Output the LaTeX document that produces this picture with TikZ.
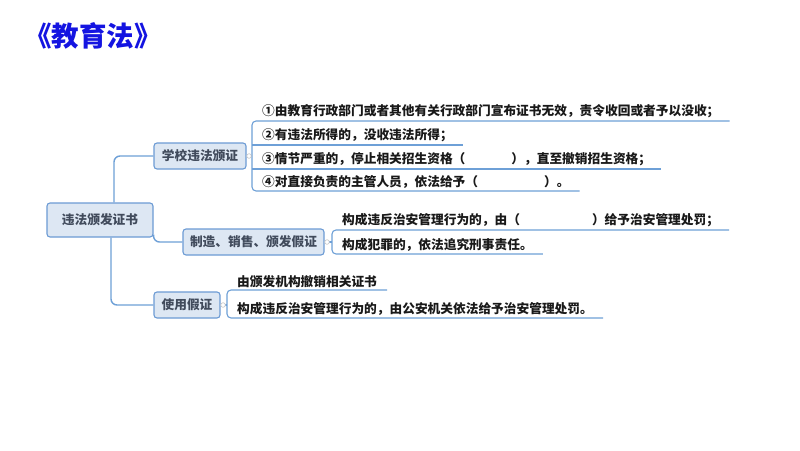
\documentclass[tikz,border=0pt]{standalone}
\usepackage{fontspec}
\setmainfont{Noto Sans CJK SC}
\usepackage{tikz}
\usetikzlibrary{calc,positioning}
\definecolor{titleblue}{RGB}{20,20,225}
\definecolor{boxfill}{RGB}{221,231,243}
\definecolor{boxline}{RGB}{108,155,212}
\definecolor{branchline}{RGB}{110,160,215}
\definecolor{topictext}{RGB}{65,75,92}
\definecolor{itemtext}{RGB}{25,25,25}
\tikzset{
    topic/.style={draw=boxline, fill=boxfill, line width=1.1pt, rounded corners=3pt,
        inner sep=0pt, font=\fontsize{12.7}{14}\selectfont\bfseries, text=topictext},
    item/.style={inner xsep=10pt, inner ysep=2.5pt, anchor=south west,
        font=\fontsize{12.7}{14}\selectfont\bfseries, text=itemtext},
    branch/.style={draw=branchline, line width=1.4pt, rounded corners=6pt},
    bracket/.style={draw=branchline, line width=1.1pt, rounded corners=4pt},
    knob/.style={draw=gray!45, fill=white, line width=0.6pt}
}
\begin{document}
\begin{tikzpicture}[x=1pt, y=-1pt]
    % Background
    \fill[white] (0,0) rectangle (800,450);
    \useasboundingbox (0,0) rectangle (800,450);

    % Title
    \node[font=\fontsize{27.5}{30}\selectfont\bfseries, text=titleblue, anchor=west, inner sep=0pt] (title) at (24,36) {《教育法》};

    % Topics
    \node[topic, minimum width=106pt, minimum height=34pt] (root) at (100,220) {违法颁发证书};
    \node[topic, minimum width=92pt, minimum height=26pt] (school) at (200,156) {学校违法颁证};
    \node[topic, minimum width=141pt, minimum height=26pt] (fake) at (253.5,242) {制造、销售、颁发假证};
    \node[topic, minimum width=66pt, minimum height=26pt] (use) at (187,305) {使用假证};

    % Branches from the root
    \draw[branch] ($(root.north)+(14,0)$) |- (school.west);
    \draw[branch] ($(root.south east)+(0,-3)$) |- (fake.west);
    \draw[branch] ($(root.south)+(11,0)$) |- (use.west);

    % School items
    \coordinate (sb) at (252,156);
    \node[item] (s1) at (252,121) {①由教育行政部门或者其他有关行政部门宣布证书无效，责令收回或者予以没收；};
    \node[item] (s2) at (252,145) {②有违法所得的，没收违法所得；};
    \node[item] (s3) at (252,169) {③情节严重的，停止相关招生资格（\hspace{46pt}），直至撤销招生资格；};
    \node[item] (s4) at (252,191) {④对直接负责的主管人员，依法给予（\hspace{66pt}）。};
    \draw[bracket] (school.east) -- (sb);
    \draw[bracket] (s1.south east) -- (s1.south west) -- (s4.south west) -- (s4.south east);
    \draw[bracket] (s2.south west) -- (s2.south east);
    \draw[bracket] (s3.south west) -- (s3.south east);
    \draw[knob] ($(school.east)+(2.5,0)$) circle (2.3pt);

    % Fake certificate items
    \coordinate (fb) at (332,242);
    \node[item] (f1) at (332,230) {构成违反治安管理行为的，由（\hspace{72pt}）给予治安管理处罚；};
    \node[item] (f2) at (332,254) {构成犯罪的，依法追究刑事责任。};
    \draw[bracket] (fake.east) -- (fb);
    \draw[bracket] (f1.south east) -- (f1.south west) -- (f2.south west) -- (f2.south east);
    \draw[knob] ($(fake.east)+(2.5,0)$) circle (2.3pt);

    % Use of fake certificates items
    \coordinate (ub) at (227,305);
    \node[item] (u1) at (227,290) {由颁发机构撤销相关证书};
    \node[item] (u2) at (227,318) {构成违反治安管理行为的，由公安机关依法给予治安管理处罚。};
    \draw[bracket] (use.east) -- (ub);
    \draw[bracket] (u1.south east) -- (u1.south west) -- (u2.south west) -- (u2.south east);
    \draw[knob] ($(use.east)+(2.5,0)$) circle (2.3pt);
\end{tikzpicture}
\end{document}
